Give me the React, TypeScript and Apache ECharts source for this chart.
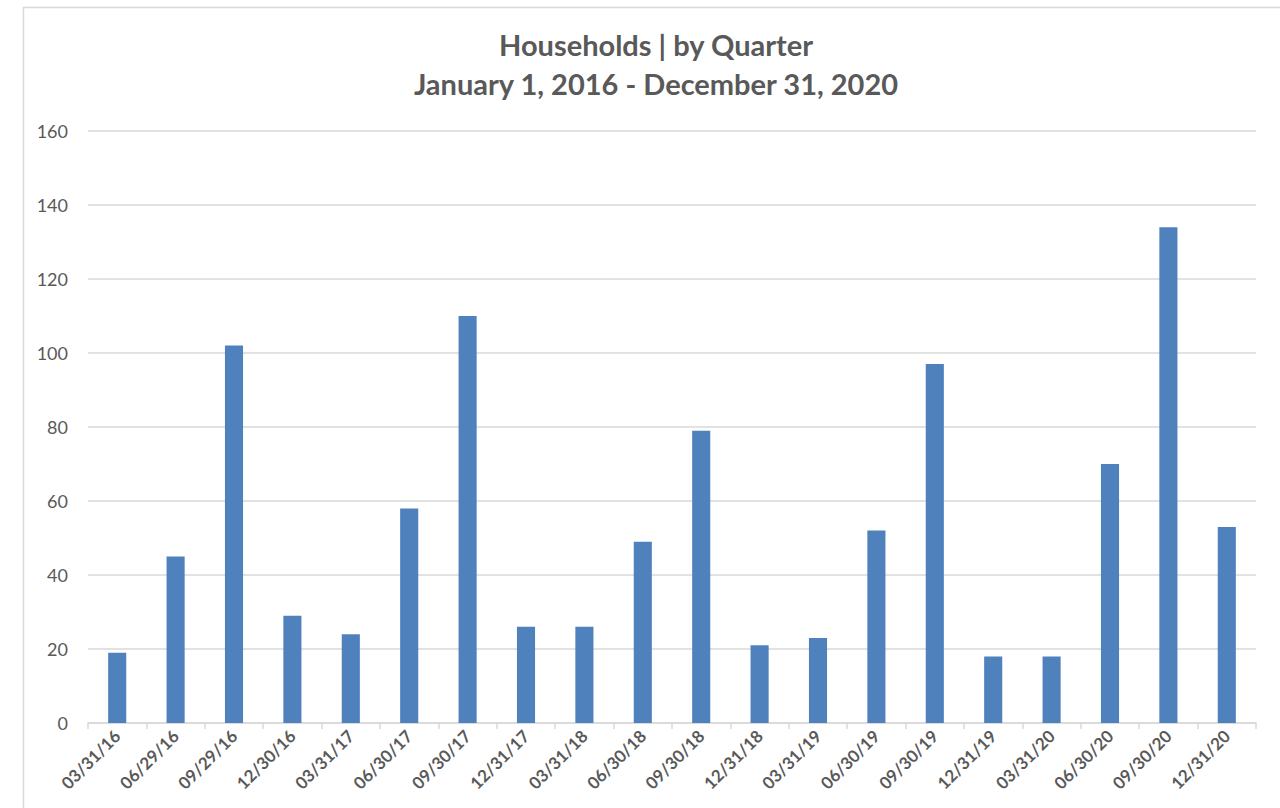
import React, { useEffect, useRef } from "react";
import * as echarts from "echarts";

const categories = [
  "03/31/16", "06/29/16", "09/29/16", "12/30/16",
  "03/31/17", "06/30/17", "09/30/17", "12/31/17",
  "03/31/18", "06/30/18", "09/30/18", "12/31/18",
  "03/31/19", "06/30/19", "09/30/19", "12/31/19",
  "03/31/20", "06/30/20", "09/30/20", "12/31/20",
];
const households = [19, 45, 102, 29, 24, 58, 110, 26, 26, 49, 79, 21, 23, 52, 97, 18, 18, 70, 134, 53];
const titleLine1 = "Households | by Quarter";
const titleLine2 = "January 1, 2016 - December 31, 2020";
const yMin = 0;
const yMax = 160;
const yStep = 20;

export default function App() {
  const ref = useRef<HTMLDivElement>(null);
  useEffect(() => {
    if (!ref.current) return;
    const chart = echarts.init(ref.current, undefined, { renderer: "svg" });
    const font = "Lato, 'Open Sans', sans-serif";
    chart.setOption({
      animation: false,
      backgroundColor: "#ffffff",
      textStyle: { fontFamily: font },
      title: {
        text: titleLine1 + "\n" + titleLine2,
        left: 651,
        textAlign: "center",
        top: 20,
        textStyle: {
          fontFamily: font,
          fontSize: 29,
          fontWeight: "bold",
          color: "#595959",
          lineHeight: 39,
        },
      },
      graphic: [
        {
          type: "rect",
          shape: { x: 23.5, y: 7.5, width: 1400, height: 1000 },
          style: { fill: "none", stroke: "#d9d9d9", lineWidth: 1.5 },
          silent: true,
        },
      ],
      grid: { left: 88, right: 24, top: 131, bottom: 85, containLabel: false },
      xAxis: {
        type: "category",
        data: categories,
        axisLine: { lineStyle: { color: "#d9d9d9", width: 1.5 } },
        axisTick: { show: true, alignWithLabel: false, length: 6, lineStyle: { color: "#d9d9d9", width: 1.5 } },
        axisLabel: {
          interval: 0,
          rotate: 45,
          margin: 10,
          color: "#595959",
          fontSize: 17,
          fontWeight: "bold",
          fontFamily: font,
        },
      },
      yAxis: {
        type: "value",
        min: yMin,
        max: yMax,
        interval: yStep,
        axisLine: { show: false },
        axisTick: { show: false },
        splitLine: { lineStyle: { color: "#d9d9d9", width: 1.5 } },
        axisLabel: { color: "#595959", fontSize: 18, margin: 20, fontFamily: font },
      },
      series: [
        {
          type: "bar",
          data: households,
          barWidth: "31%",
          itemStyle: { color: "#4f81bd" },
        },
      ],
    });
    return () => chart.dispose();
  }, []);
  return (
    <div
      ref={ref}
      style={{ position: "fixed", left: 0, top: 0, width: 1280, height: 808 }}
    />
  );
}
